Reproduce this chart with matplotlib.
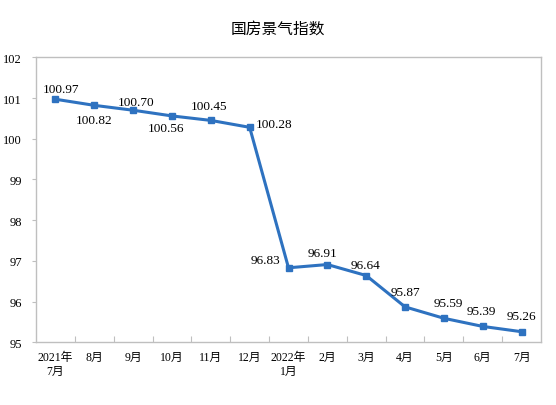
import matplotlib
matplotlib.use("Agg")
import matplotlib.pyplot as plt

categories = ["2021年\n7月", "8月", "9月", "10月", "11月", "12月", "2022年\n1月",
              "2月", "3月", "4月", "5月", "6月", "7月"]
values = [100.97, 100.82, 100.70, 100.56, 100.45, 100.28, 96.83,
          96.91, 96.64, 95.87, 95.59, 95.39, 95.26]
yticks = [95, 96, 97, 98, 99, 100, 101, 102]
title = "国房景气指数"

# label placement (pixel offsets of label centre from point; ha anchor)
label_offsets = [(6, 12), (0, -13), (3, 10), (-5.5, -11), (-2, 16), (6, 5), (-8, 9),
                 (-5, 13), (-1, 12), (0, 16), (4.5, 17), (-1, 17), (0, 17.5)]
label_anchor = ["center"] * 5 + ["left", "right"] + ["center"] * 6

plt.rcParams['font.family'] = ['Liberation Serif', 'Noto Sans CJK SC', 'DejaVu Sans']

fig = plt.figure(figsize=(5.56, 4.06), dpi=100)
ax = fig.add_axes([36 / 556, 1 - 343.3 / 406, 505 / 556, 285 / 406])

color = "#2E72C0"
x = list(range(len(values)))
ax.plot(x, values, color=color, lw=2.2, marker="s", ms=4.5, mec=color, mfc=color,
        solid_joinstyle="miter")

px2pt = 0.72
for xi, v, (dx, dy), ha in zip(x, values, label_offsets, label_anchor):
    ax.annotate(f"{v:.2f}", (xi, v), xytext=(dx * px2pt, dy * px2pt),
                textcoords="offset points", ha=ha, va="center_baseline", fontsize=9.5)

ax.set_xlim(-0.5, len(values) - 0.5)
ax.set_ylim(95, 102)
ax.set_yticks(yticks)
ax.set_yticklabels([str(t) for t in yticks], fontsize=9)
ax.set_xticks(x)
ax.set_xticklabels(categories, fontsize=8.5, linespacing=1.3)
ax.tick_params(axis="x", which="major", length=0, pad=6)
ax.tick_params(axis="y", length=3, color="#BFBFBF", width=0.8, pad=7)
ax.set_xticks([i + 0.5 for i in range(len(values) - 1)], minor=True)
ax.tick_params(axis="x", which="minor", direction="in", length=4.5, color="#BFBFBF", width=0.8)

for s in ax.spines.values():
    s.set_color("#BFBFBF")
    s.set_linewidth(1.0)

fig.text(0.5, 1 - 29 / 406, title, ha="center", va="center", fontsize=11.3,
         fontweight="medium", family=['Noto Sans CJK SC', 'DejaVu Sans'])

fig.savefig("out.png", dpi=100)
